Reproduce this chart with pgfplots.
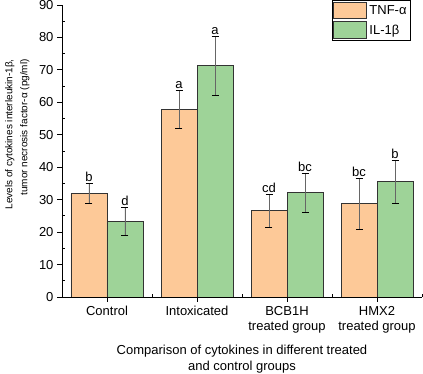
\documentclass[border=0pt]{standalone}
\usepackage{fontspec}
\setmainfont{Liberation Sans}
\usepackage{pgfplots}
\pgfplotsset{compat=1.18}
\definecolor{tnf}{RGB}{253,201,152}
\definecolor{ilb}{RGB}{158,211,152}
\begin{document}
\begin{tikzpicture}
\begin{axis}[
  scale only axis, width=360pt, height=292pt,
  xmin=-0.5, xmax=3.5, ymin=0, ymax=90,
  axis x line*=bottom, axis y line*=left,
  axis line style={-, black, line width=0.8pt},
  ybar=0pt, bar width=0.4,
  xtick={0,1,2,3},
  xticklabels={Control, Intoxicated, {BCB1H\\treated group}, {HMX2\\treated group}},
  minor xtick={0.5,1.5,2.5,3.5},
  ytick={0,10,...,90}, minor ytick={5,15,...,85},
  tick style={black, line width=0.8pt},
  tick align=inside,
  major tick length=-5pt, minor tick length=3pt,
  /pgf/number format/assume math mode=true,
  ticklabel style={font=\fontsize{13}{15.5}\selectfont},
  xticklabel style={align=center, yshift=-5.5pt},
  yticklabel style={xshift=-5pt},
  xlabel={Comparison of cytokines in different treated\\and control groups},
  xlabel style={align=center, font=\fontsize{13}{16}\selectfont, yshift=-4.5pt},
  legend style={at={(0.969,1.017)}, anchor=north east, draw=black, line width=0.6pt,
    font=\fontsize{13}{15}\selectfont, inner xsep=1.5pt, inner ysep=1.5pt, row sep=2.4pt,
    column sep=0pt, nodes={inner xsep=2.5pt, inner ysep=0pt}, cells={anchor=west}},
  legend image code/.code={\draw[#1,line width=0.6pt] (0pt,-8.3pt) rectangle (33pt,8.3pt);},
]
\coordinate (o) at (rel axis cs:0,0);
\addplot[fill=tnf, draw=black!80, line width=0.8pt, bar shift=-0.2,
  error bars/.cd, y dir=both, y explicit,
  error bar style={black!60, line width=0.6pt},
  error mark options={black, rotate=90, mark size=3.5pt, line width=0.6pt}]
  coordinates {(0,31.9) +- (0,3.1) (1,57.8) +- (0,5.9) (2,26.7) +- (0,5.1) (3,28.8) +- (0,7.8)};
\addplot[fill=ilb, draw=black!80, line width=0.8pt, bar shift=0.2,
  error bars/.cd, y dir=both, y explicit,
  error bar style={black!60, line width=0.6pt},
  error mark options={black, rotate=90, mark size=3.5pt, line width=0.6pt}]
  coordinates {(0,23.3) +- (0,4.2) (1,71.3) +- (0,9.0) (2,32.1) +- (0,5.9) (3,35.5) +- (0,6.7)};
\legend{TNF-α, IL-1β}
\begin{scope}[every node/.style={anchor=south, inner sep=1.5pt, font=\fontsize{13}{15}\selectfont}]
\node at (axis cs:-0.2,35.0) {b};
\node at (axis cs:0.2,27.5) {d};
\node at (axis cs:0.8,63.7) {a};
\node at (axis cs:1.2,80.3) {a};
\node at (axis cs:1.8,31.8) {cd};
\node at (axis cs:2.2,38.0) {bc};
\node at (axis cs:2.8,36.6) {bc};
\node at (axis cs:3.2,42.2) {b};
\end{scope}
\end{axis}
\node[rotate=90, anchor=base east, inner sep=0pt, font=\fontsize{10}{12}\selectfont]
  at ([shift={(-49.5pt,238pt)}]o) {Levels of cytokines interleukin-1β,};
\node[rotate=90, anchor=base east, inner sep=0pt, font=\fontsize{10}{12}\selectfont]
  at ([shift={(-34.5pt,238pt)}]o) {tumor necrosis factor-α (pg/ml)};
\pgfresetboundingbox
\path ([shift={(-62pt,-77pt)}]o) rectangle ++(423pt,374pt);
\end{tikzpicture}
\end{document}
